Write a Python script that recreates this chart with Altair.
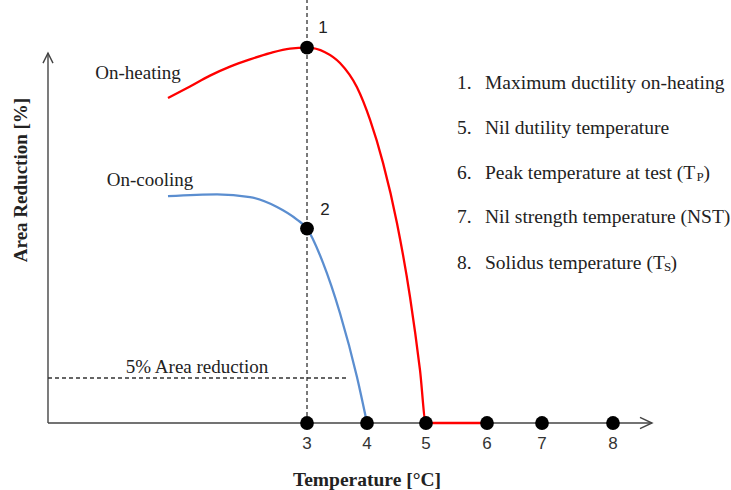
import altair as alt
import pandas as pd

# ---- data (temperature units on x, area reduction % on y) ----
red_x = [0.683, 1.05, 1.383, 1.717, 2.05, 2.383, 2.717, 3.0, 3.3, 3.55, 3.833, 4.05, 4.267, 4.5, 4.717, 4.883, 4.983, 6.0]
red_y = [36.1, 37.4, 38.6, 39.6, 40.4, 41.1, 41.6, 41.7, 41.2, 40.0, 37.3, 33.7, 28.9, 22.2, 14.0, 5.9, 0.0, 0.0]

blue_x = [0.683, 1.5, 2.05, 2.5, 2.833, 3.0, 3.267, 3.55, 3.833, 4.0]
blue_y = [25.2, 25.4, 25.1, 24.0, 22.6, 21.6, 17.8, 12.2, 5.1, 0.0]

tick_pos = [3.0, 4.0, 4.983, 6.0, 6.917, 8.1]
tick_labels = ["3", "4", "5", "6", "7", "8"]

key_x = [3.0, 3.0]
key_y = [41.7, 21.6]
key_labels = ["1", "2"]
key_label_x = [3.267, 3.3]
key_label_y = [43.9, 23.7]

legend_nums = ["1.", "5.", "6.", "7.", "8."]
legend_texts = ["Maximum  ductility on-heating", "Nil dutility temperature",
                "Peak temperature at test (T", "Nil strength temperature (NST)",
                "Solidus temperature (T"]
legend_y = [37.8, 32.8, 27.8, 22.9, 17.8]
legend_num_x = 5.5
legend_text_x = 5.967

sub_labels = ["P", "S"]
sub_x = [9.49, 8.95]
sub_y = [27.3, 17.3]
close_x = [9.61, 9.06]
close_y = [27.8, 17.8]

# axis frame extents
x_axis_start, x_axis_end = -1.317, 8.75
y_axis_top = 41.1
five_pct = 5.0
five_pct_end = 3.667
top_y = 47.0

xs = alt.Scale(domain=[-2.117, 10.067], nice=False, zero=False)
ys = alt.Scale(domain=[-7.444, 47.0], nice=False, zero=False)

SERIF = "Liberation Serif"
SANS = "Liberation Sans"
INK = "#222222"
AX = "#444444"


def X(f="x"):
    return alt.X(f"{f}:Q", scale=xs, axis=None)


def Y(f="y"):
    return alt.Y(f"{f}:Q", scale=ys, axis=None)


axes_df = pd.DataFrame({
    "x": [x_axis_start, x_axis_start], "x2": [x_axis_end, x_axis_start],
    "y": [0.0, 0.0], "y2": [0.0, y_axis_top]})
axes = alt.Chart(axes_df).mark_rule(color=AX, strokeWidth=1.4).encode(
    x=X(), x2="x2:Q", y=Y(), y2="y2:Q")

arrow_r = alt.Chart(pd.DataFrame({"x": [x_axis_end], "y": [0.0]})).mark_point(
    shape="M -1 -0.46 L 0 0 L -1 0.46", filled=False, size=576, color=AX,
    strokeWidth=1.4, opacity=1).encode(x=X(), y=Y())
arrow_u = alt.Chart(pd.DataFrame({"x": [x_axis_start], "y": [y_axis_top]})).mark_point(
    shape="M -0.5 1 L 0 0 L 0.5 1", filled=False, size=400, color=AX,
    strokeWidth=1.4, opacity=1).encode(x=X(), y=Y())

vdash = alt.Chart(pd.DataFrame({"x": [3.0], "y": [0.0], "y2": [top_y]})).mark_rule(
    color="#333333", strokeWidth=1.3, strokeDash=[4, 3]).encode(x=X(), y=Y(), y2="y2:Q")
hdash = alt.Chart(pd.DataFrame({"x": [x_axis_start], "x2": [five_pct_end], "y": [five_pct]})).mark_rule(
    color="#333333", strokeWidth=1.3, strokeDash=[4, 3]).encode(x=X(), x2="x2:Q", y=Y())

red = alt.Chart(pd.DataFrame({"x": red_x, "y": red_y})).mark_line(
    color="#FF0000", strokeWidth=2.3, interpolate="monotone").encode(x=X(), y=Y(), order="x:Q")
blue = alt.Chart(pd.DataFrame({"x": blue_x, "y": blue_y})).mark_line(
    color="#5B8ED0", strokeWidth=2.3, interpolate="monotone").encode(x=X(), y=Y(), order="x:Q")

dots_df = pd.DataFrame({"x": tick_pos + key_x, "y": [0.0] * len(tick_pos) + key_y})
dots = alt.Chart(dots_df).mark_circle(color="#000000", size=190, opacity=1).encode(x=X(), y=Y())

ticks_df = pd.DataFrame({"x": tick_pos, "y": [-2.3] * len(tick_pos), "t": tick_labels})
ticks = alt.Chart(ticks_df).mark_text(font=SANS, fontSize=17, color="#333333",
                                      baseline="middle", align="center").encode(x=X(), y=Y(), text="t:N")

keys_df = pd.DataFrame({"x": key_label_x, "y": key_label_y, "t": key_labels})
keys = alt.Chart(keys_df).mark_text(font=SANS, fontSize=17, color=INK,
                                    baseline="middle", align="center").encode(x=X(), y=Y(), text="t:N")

ann_df = pd.DataFrame({"x": [0.183, 0.383, 1.167], "y": [38.9, 27.0, 6.2],
                       "t": ["On-heating", "On-cooling", "5% Area reduction"]})
ann = alt.Chart(ann_df).mark_text(font=SERIF, fontSize=19, color=INK,
                                  baseline="middle", align="center").encode(x=X(), y=Y(), text="t:N")

leg_num_df = pd.DataFrame({"x": [legend_num_x] * 5, "y": legend_y, "t": legend_nums})
leg_num = alt.Chart(leg_num_df).mark_text(font=SERIF, fontSize=19.5, color=INK,
                                          baseline="middle", align="left").encode(x=X(), y=Y(), text="t:N")
leg_txt_df = pd.DataFrame({"x": [legend_text_x] * 5, "y": legend_y, "t": legend_texts})
leg_txt = alt.Chart(leg_txt_df).mark_text(font=SERIF, fontSize=19.5, color=INK,
                                          baseline="middle", align="left").encode(x=X(), y=Y(), text="t:N")
sub_df = pd.DataFrame({"x": sub_x, "y": sub_y, "t": sub_labels})
subs = alt.Chart(sub_df).mark_text(font=SERIF, fontSize=13, color=INK,
                                   baseline="middle", align="left").encode(x=X(), y=Y(), text="t:N")
close_df = pd.DataFrame({"x": close_x, "y": close_y, "t": [")", ")"]})
closes = alt.Chart(close_df).mark_text(font=SERIF, fontSize=19.5, color=INK,
                                       baseline="middle", align="left").encode(x=X(), y=Y(), text="t:N")

xt = alt.Chart(pd.DataFrame({"x": [4.0], "y": [-6.33], "t": ["Temperature [°C]"]})).mark_text(
    font=SERIF, fontSize=19.5, fontWeight="bold", color=INK, baseline="middle", align="center").encode(
    x=X(), y=Y(), text="t:N")
yt = alt.Chart(pd.DataFrame({"x": [-1.767], "y": [27.0], "t": ["Area Reduction [%]"]})).mark_text(
    font=SERIF, fontSize=19, fontWeight="bold", color=INK, baseline="middle", align="center",
    angle=270).encode(x=X(), y=Y(), text="t:N")

chart = alt.layer(
    axes, arrow_r, arrow_u, vdash, hdash, red, blue, dots, ticks, keys, ann,
    leg_num, leg_txt, subs, closes, xt, yt
).properties(
    width=731, height=490, padding=0,
    autosize=alt.AutoSizeParams(type="none"),
    background="white"
).configure_view(stroke=None)

chart.save("out.html", embed_options={"renderer": "svg", "actions": False})
